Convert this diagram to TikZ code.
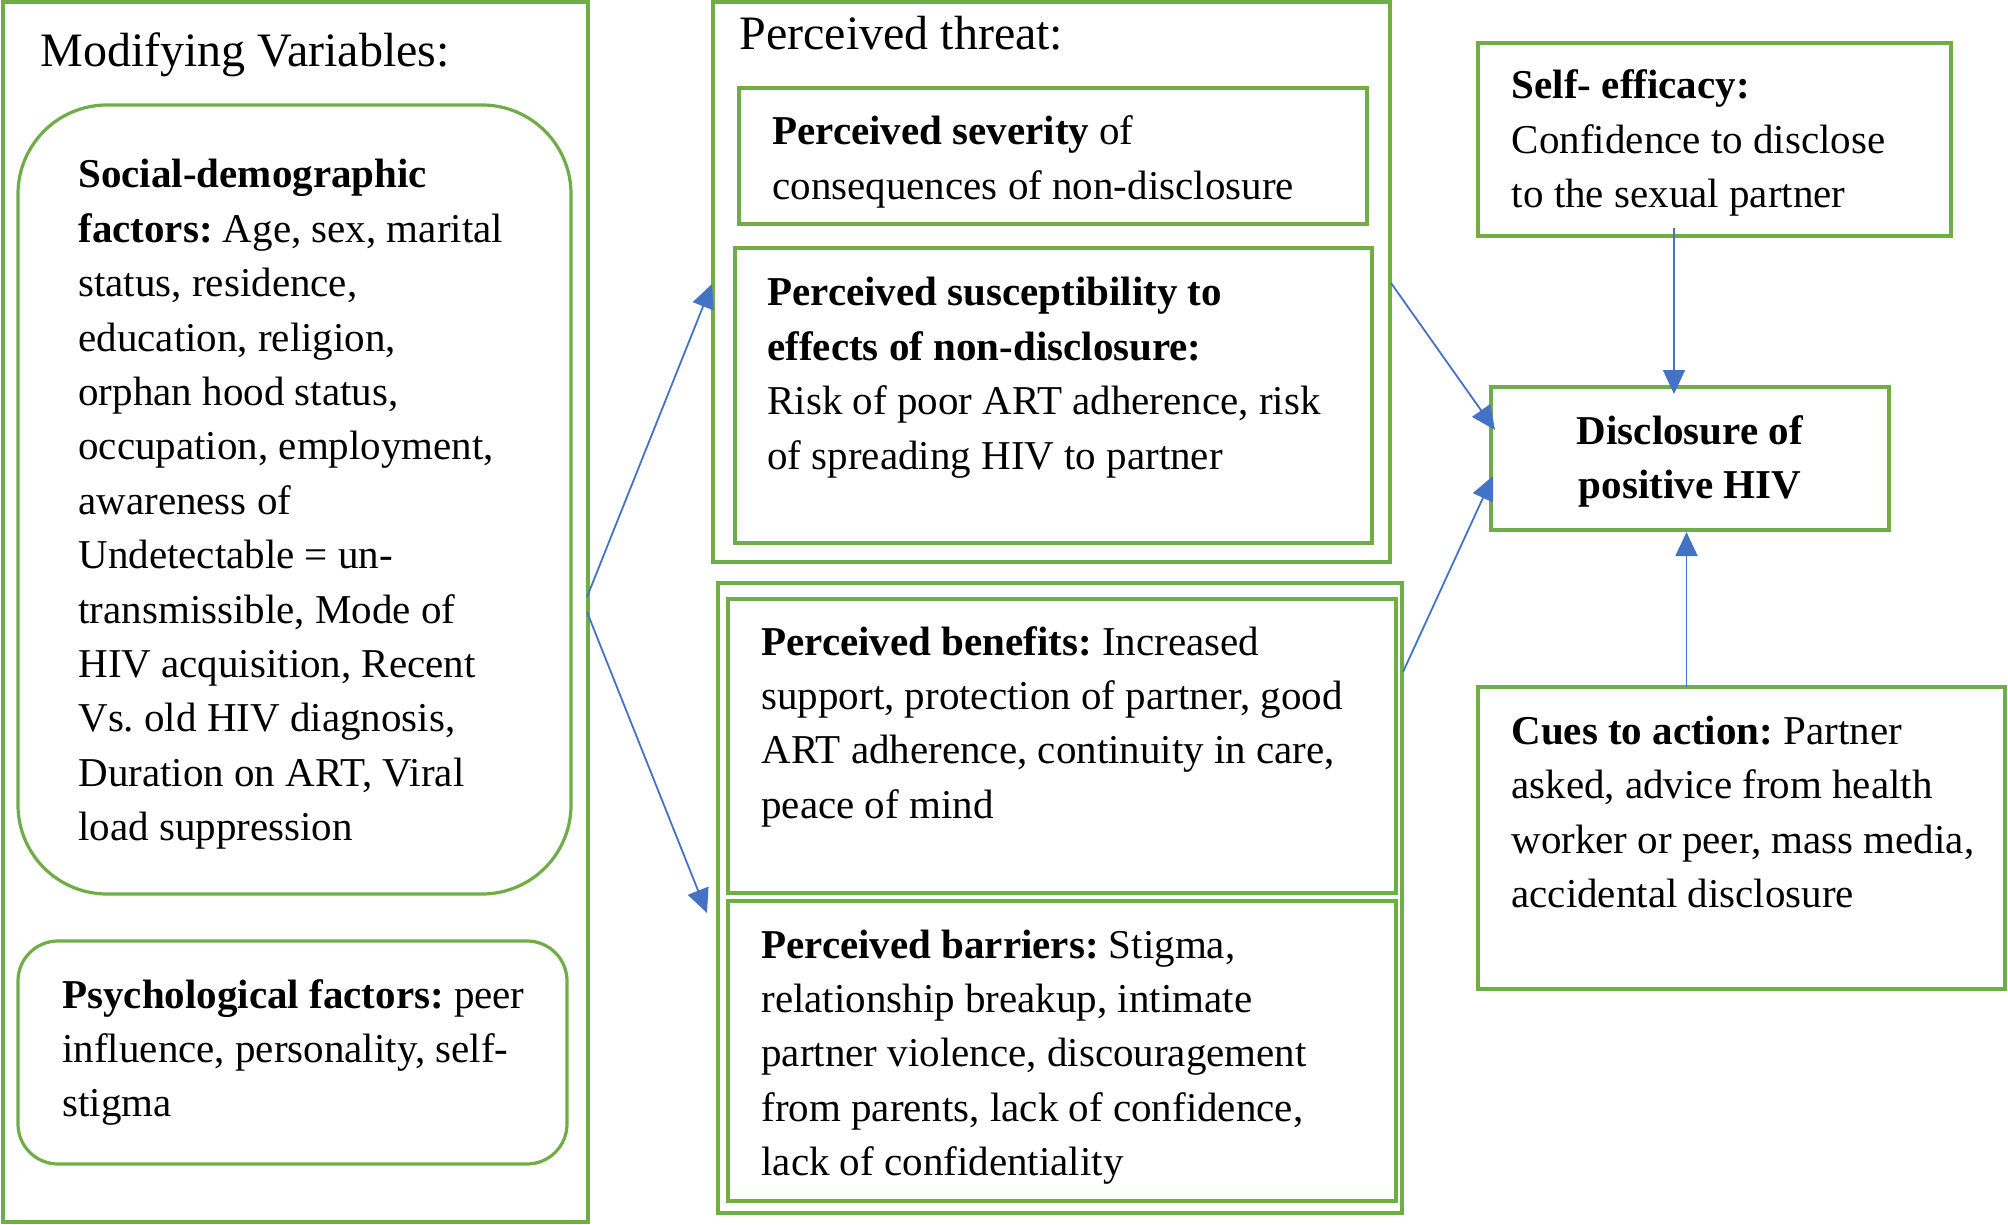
\documentclass[tikz,border=0pt]{standalone}
\usepackage{fontspec}
\setmainfont{Liberation Serif}
\usetikzlibrary{arrows.meta}
\definecolor{grn}{HTML}{70AD47}
\definecolor{blu}{HTML}{4472C4}
\newcommand{\bodyfont}{\fontsize{20.5}{27.2}\selectfont\frenchspacing}
\newcommand{\mlL}[1]{{\bodyfont\vtop{\let\\\cr\halign{##\hfil\cr#1\crcr}}}}
\newcommand{\mlC}[1]{{\bodyfont\vtop{\let\\\cr\halign{\hfil##\hfil\cr#1\crcr}}}}
\begin{document}
\begin{tikzpicture}[x=0.5pt,y=-0.5pt,
  gbox/.style={draw=grn, line width=1.6pt, inner sep=0pt},
  txt/.style={inner sep=0pt, anchor=base west, font=\bodyfont},
  ctxt/.style={inner sep=0pt, anchor=base, font=\bodyfont},
  ttl/.style={inner sep=0pt, anchor=base west, font=\fontsize{24}{28}\selectfont},
  arr/.style={draw=blu, line width=0.9pt, -{Triangle[length=12pt,width=11pt]}}]
\fill[white] (0,0) rectangle (2008,1225);
\useasboundingbox (0,0) rectangle (2008,1225);

% boxes
\node[gbox, minimum width=292.5pt, minimum height=610pt] (mod) at (295.5,612) {};
\node[gbox, minimum width=276.5pt, minimum height=394.5pt, rounded corners=44.5pt] (soc) at (294.5,499.5) {};
\node[gbox, minimum width=274.5pt, minimum height=111.5pt, rounded corners=20pt] (psy) at (292.5,1052.5) {};
\node[gbox, minimum width=338.5pt, minimum height=280pt] (thr) at (1051.5,282) {};
\node[gbox, minimum width=314pt, minimum height=68pt] (sev) at (1053,156) {};
\node[gbox, minimum width=318.5pt, minimum height=147.5pt] (sus) at (1053.5,395.5) {};
\node[gbox, minimum width=342pt, minimum height=315pt] (bb) at (1060,898) {};
\node[gbox, minimum width=334pt, minimum height=147pt] (ben) at (1062,746) {};
\node[gbox, minimum width=334pt, minimum height=150pt] (bar) at (1062,1051) {};
\node[gbox, minimum width=236.5pt, minimum height=96.5pt] (eff) at (1714.5,139.5) {};
\node[gbox, minimum width=199pt, minimum height=71.5pt] (dis) at (1690,458.5) {};
\node[gbox, minimum width=263.5pt, minimum height=151pt] (cue) at (1741.5,838) {};

% texts
\node[ttl] (modt) at (40,67) {Modifying Variables:};
\node[txt] (soct) at (78,188) {\mlL{\textbf{Social-demographic}\\
\textbf{factors:} Age, sex, marital\\
status, residence,\\
education, religion,\\
orphan hood status,\\
occupation, employment,\\
awareness of\\
Undetectable = un-\\
transmissible, Mode of\\
HIV acquisition, Recent\\
Vs. old HIV diagnosis,\\
Duration on ART, Viral\\
load suppression}};
\node[txt] (psyt) at (62,1008) {\mlL{\textbf{Psychological factors:} peer\\
influence, personality, self-\\
stigma}};
\node[ttl] (thrt) at (739,50) {Perceived threat:};
\node[txt] (sevt) at (772,145) {\mlL{\textbf{Perceived severity} of\\
consequences of non-disclosure}};
\node[txt] (sust) at (767,306) {\mlL{\textbf{Perceived susceptibility to}\\
\textbf{effects of non-disclosure:}\\
Risk of poor ART adherence, risk\\
of spreading HIV to partner}};
\node[txt] (bent) at (761,655) {\mlL{\textbf{Perceived benefits:} Increased\\
support, protection of partner, good\\
ART adherence, continuity in care,\\
peace of mind}};
\node[txt] (bart) at (761,958) {\mlL{\textbf{Perceived barriers:} Stigma,\\
relationship breakup, intimate\\
partner violence, discouragement\\
from parents, lack of confidence,\\
lack of confidentiality}};
\node[txt] (efft) at (1511.5,99) {\mlL{\textbf{Self- efficacy:}\\
Confidence to disclose\\
to the sexual partner}};
\node[ctxt] (dist) at (1690,444) {\mlC{\textbf{Disclosure of}\\
\textbf{positive HIV}}};
\node[txt] (cuet) at (1511,744.5) {\mlL{\textbf{Cues to action:} Partner\\
asked, advice from health\\
worker or peer, mass media,\\
accidental disclosure}};

% connector end points
\coordinate (a1s) at (587,597);
\coordinate (a1e) at (712,284);
\coordinate (a2s) at (587,612);
\coordinate (a2e) at (707,913);
\coordinate (a3s) at (1391,283);
\coordinate (a3e) at (1495,430);
\coordinate (a4s) at (1403,672);
\coordinate (a4e) at (1493,476);
\coordinate (a5s) at (1674,228);
\coordinate (a5e) at (1674,394);
\coordinate (a6s) at (1686.5,687);
\coordinate (a6e) at (1686.5,532);

\draw[arr] (a1s) -- (a1e);
\draw[arr] (a2s) -- (a2e);
\draw[arr] (a3s) -- (a3e);
\draw[arr] (a4s) -- (a4e);
\draw[arr] (a5s) -- (a5e);
\draw[arr] (a6s) -- (a6e);
\end{tikzpicture}
\end{document}
